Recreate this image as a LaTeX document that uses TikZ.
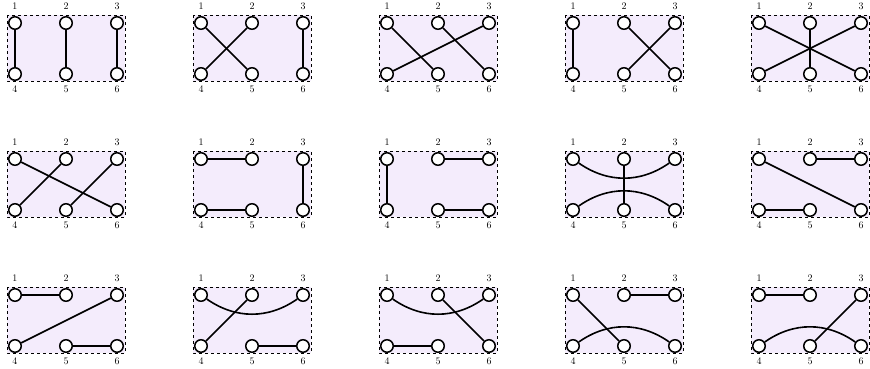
\documentclass[tikz,border=0pt]{standalone}
\usetikzlibrary{positioning}
\definecolor{pairfill}{RGB}{244,236,252}

\tikzset{
  vert/.style={circle,draw,fill=white,line width=1.5pt,minimum size=12.5pt,inner sep=0pt},
  pairing/.style={line width=1.6pt},
  frame/.style={draw,dashed,line width=0.7pt,fill=pairfill},
  num/.style={font=\normalsize,inner sep=1pt}
}

% one box of six vertices: #1 name, (#2,#3) centre of vertex 1
\newcommand{\matchbox}[3]{%
  \draw[frame] (#2-8,#3-8) rectangle (#2+110,#3+58);
  \node[vert] (#1-1) at (#2,#3) {};
  \node[vert] (#1-2) at (#2+51,#3) {};
  \node[vert] (#1-3) at (#2+102,#3) {};
  \node[vert] (#1-4) at (#2,#3+51) {};
  \node[vert] (#1-5) at (#2+51,#3+51) {};
  \node[vert] (#1-6) at (#2+102,#3+51) {};
  \node[num,above=5pt of #1-1] (#1-l1) {1};
  \node[num,above=5pt of #1-2] (#1-l2) {2};
  \node[num,above=5pt of #1-3] (#1-l3) {3};
  \node[num,below=4pt of #1-4] (#1-l4) {4};
  \node[num,below=4pt of #1-5] (#1-l5) {5};
  \node[num,below=4pt of #1-6] (#1-l6) {6};
}

\begin{document}
\begin{tikzpicture}[x=1pt,y=-1pt]
\useasboundingbox (0,0) rectangle (870,368);

% Row 1
\matchbox{pm1}{15}{23}
\draw[pairing] (pm1-1) -- (pm1-4);
\draw[pairing] (pm1-2) -- (pm1-5);
\draw[pairing] (pm1-3) -- (pm1-6);

\matchbox{pm2}{201}{23}
\draw[pairing] (pm2-1) -- (pm2-5);
\draw[pairing] (pm2-2) -- (pm2-4);
\draw[pairing] (pm2-3) -- (pm2-6);

\matchbox{pm3}{387}{23}
\draw[pairing] (pm3-1) -- (pm3-5);
\draw[pairing] (pm3-2) -- (pm3-6);
\draw[pairing] (pm3-3) -- (pm3-4);

\matchbox{pm4}{573}{23}
\draw[pairing] (pm4-1) -- (pm4-4);
\draw[pairing] (pm4-2) -- (pm4-6);
\draw[pairing] (pm4-3) -- (pm4-5);

\matchbox{pm5}{759}{23}
\draw[pairing] (pm5-1) -- (pm5-6);
\draw[pairing] (pm5-2) -- (pm5-5);
\draw[pairing] (pm5-3) -- (pm5-4);

% Row 2
\matchbox{pm6}{15}{159}
\draw[pairing] (pm6-1) -- (pm6-6);
\draw[pairing] (pm6-2) -- (pm6-4);
\draw[pairing] (pm6-3) -- (pm6-5);

\matchbox{pm7}{201}{159}
\draw[pairing] (pm7-1) -- (pm7-2);
\draw[pairing] (pm7-3) -- (pm7-6);
\draw[pairing] (pm7-4) -- (pm7-5);

\matchbox{pm8}{387}{159}
\draw[pairing] (pm8-1) -- (pm8-4);
\draw[pairing] (pm8-2) -- (pm8-3);
\draw[pairing] (pm8-5) -- (pm8-6);

\matchbox{pm9}{573}{159}
\draw[pairing] (pm9-1) to[bend right=35] (pm9-3);
\draw[pairing] (pm9-4) to[bend left=35] (pm9-6);
\draw[pairing] (pm9-2) -- (pm9-5);

\matchbox{pm10}{759}{159}
\draw[pairing] (pm10-1) -- (pm10-6);
\draw[pairing] (pm10-2) -- (pm10-3);
\draw[pairing] (pm10-4) -- (pm10-5);

% Row 3
\matchbox{pm11}{15}{295}
\draw[pairing] (pm11-1) -- (pm11-2);
\draw[pairing] (pm11-3) -- (pm11-4);
\draw[pairing] (pm11-5) -- (pm11-6);

\matchbox{pm12}{201}{295}
\draw[pairing] (pm12-1) to[bend right=35] (pm12-3);
\draw[pairing] (pm12-2) -- (pm12-4);
\draw[pairing] (pm12-5) -- (pm12-6);

\matchbox{pm13}{387}{295}
\draw[pairing] (pm13-1) to[bend right=35] (pm13-3);
\draw[pairing] (pm13-2) -- (pm13-6);
\draw[pairing] (pm13-4) -- (pm13-5);

\matchbox{pm14}{573}{295}
\draw[pairing] (pm14-1) -- (pm14-5);
\draw[pairing] (pm14-2) -- (pm14-3);
\draw[pairing] (pm14-4) to[bend left=35] (pm14-6);

\matchbox{pm15}{759}{295}
\draw[pairing] (pm15-1) -- (pm15-2);
\draw[pairing] (pm15-3) -- (pm15-5);
\draw[pairing] (pm15-4) to[bend left=35] (pm15-6);

\end{tikzpicture}
\end{document}
